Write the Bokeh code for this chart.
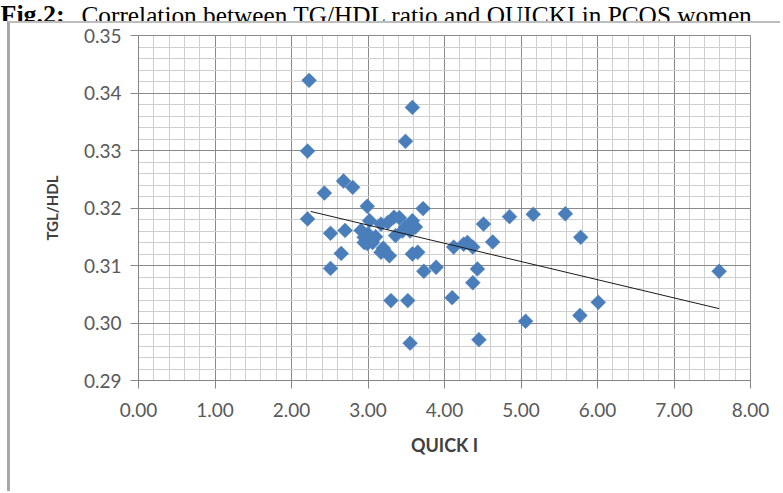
import numpy as np
from bokeh.plotting import figure
from bokeh.layouts import column
from bokeh.models import FixedTicker, NumeralTickFormatter, Label, ColumnDataSource
from bokeh.embed import file_html
from bokeh.resources import INLINE

# ---- data ----
quicki = [2.23, 3.58, 3.49, 2.21, 2.43, 2.68, 2.80, 2.99, 3.72, 2.21,
          4.51, 4.63, 2.51, 2.70, 2.65, 4.12, 4.30, 4.37, 2.51, 2.99,
          3.17, 3.28, 3.58, 3.65, 3.73, 3.89, 3.30, 3.52, 3.55, 4.10,
          4.45, 4.37, 4.43, 4.85, 5.16, 5.58, 5.78, 7.59, 6.01, 5.77,
          5.06, 2.91, 2.95, 3.02, 3.06, 3.17, 3.26, 3.34, 3.41, 3.49,
          3.58, 3.62, 3.36, 3.00, 3.10, 3.45, 3.55, 2.95, 3.20, 4.25]
tgl_hdl = [0.3422, 0.3375, 0.3316, 0.3299, 0.3226, 0.3247, 0.3236, 0.3203, 0.3199, 0.3181,
           0.3172, 0.3141, 0.3156, 0.3161, 0.3121, 0.3132, 0.3140, 0.3132, 0.3095, 0.3138,
           0.3123, 0.3117, 0.3120, 0.3123, 0.3090, 0.3097, 0.3039, 0.3039, 0.2965, 0.3044,
           0.2971, 0.3070, 0.3094, 0.3185, 0.3189, 0.3190, 0.3149, 0.3090, 0.3036, 0.3013,
           0.3003, 0.3161, 0.3149, 0.3178, 0.3140, 0.3172, 0.3175, 0.3184, 0.3183, 0.3167,
           0.3178, 0.3167, 0.3152, 0.3155, 0.3150, 0.3160, 0.3160, 0.3140, 0.3130, 0.3137]
trend_x = [2.25, 7.59]
trend_y = [0.3194, 0.3025]

x_ticks = [0, 1, 2, 3, 4, 5, 6, 7, 8]
y_ticks = [0.29, 0.30, 0.31, 0.32, 0.33, 0.34, 0.35]

title_bold = "Fig.2:"
title_rest = "Correlation between TG/HDL ratio and QUICKI in PCOS women"
x_label = "QUICK I"
y_label = "TGL/HDL"

# ---- title strip (text partly cut at the top, as in the reference) ----
TW, TH = 783, 21
pt = figure(width=TW, height=TH, x_range=(0, 1), y_range=(0, 1),
            x_axis_type=None, y_axis_type=None, output_backend="svg",
            toolbar_location=None, min_border=0, frame_align=False)
pt.grid.visible = False
pt.outline_line_color = None
pt.border_fill_color = "white"
pt.background_fill_color = "white"
pt.add_layout(Label(x=0, y=7, x_units="screen", y_units="screen", text=title_bold,
                    text_font="Liberation Serif", text_font_style="bold",
                    text_font_size="26px", text_color="black",
                    text_baseline="alphabetic"))
pt.add_layout(Label(x=81, y=7, x_units="screen", y_units="screen", text=title_rest,
                    text_font="Liberation Serif", text_font_size="25.3px",
                    text_color="black", text_baseline="alphabetic"))

# ---- main chart ----
W, H = 773, 470
p = figure(width=W, height=H, x_range=(0, 8), y_range=(0.29, 0.35),
           output_backend="svg", toolbar_location=None,
           min_border_left=128, min_border_right=33,
           min_border_top=12, min_border_bottom=113,
           margin=(0, 0, 0, 7), frame_align=False,
           styles={"border-left": "3px solid #a8a8a8",
                   "border-top": "2px solid #bdbdbd"})
p.background_fill_color = "white"
p.border_fill_color = "white"
p.outline_line_color = "#8a8a8a"

x_minor = list(np.round(np.arange(0, 8.0001, 0.2), 2))
y_minor = list(np.round(np.arange(0.29, 0.35001, 0.002), 3))
xt = FixedTicker(ticks=x_ticks, minor_ticks=x_minor)
yt = FixedTicker(ticks=y_ticks, minor_ticks=y_minor)

for ax, tick in ((p.xaxis, xt), (p.yaxis, yt)):
    ax.ticker = tick
    ax.formatter = NumeralTickFormatter(format="0.00")
    ax.major_label_text_font = "Lato"
    ax.major_label_text_font_size = "19px"
    ax.major_label_text_color = "#595959"
    ax.axis_line_color = "#868686"
    ax.major_tick_line_color = "#868686"
    ax.major_tick_out = 8
    ax.major_tick_in = 0
    ax.minor_tick_line_color = None
    ax.axis_label_text_font = "Lato"
    ax.axis_label_text_font_style = "bold"
    ax.axis_label_text_color = "#404040"

p.xaxis.major_label_standoff = 14
p.yaxis.major_label_standoff = 9
p.xaxis.axis_label = x_label
p.xaxis.axis_label_text_font_size = "18px"
p.xaxis.axis_label_standoff = 14
p.yaxis.axis_label = y_label
p.yaxis.axis_label_text_font_size = "15px"
p.yaxis.axis_label_standoff = 20

for g, tick in ((p.xgrid, xt), (p.ygrid, yt)):
    g.ticker = tick
    g.grid_line_color = "#8a8a8a"
    g.grid_line_alpha = 1.0
    g.minor_grid_line_color = "#cfcfcf"

src = ColumnDataSource(dict(x=quicki, y=tgl_hdl))
p.scatter("x", "y", source=src, marker="square", size=10.5, angle=np.pi / 4,
          fill_color="#4a7ebb", line_color="#4a7ebb", line_width=0.5)
p.line(trend_x, trend_y, line_color="#1a1a1a", line_width=1)

layout = column(pt, p, spacing=0)
open("out.html", "w").write(file_html(layout, INLINE))
